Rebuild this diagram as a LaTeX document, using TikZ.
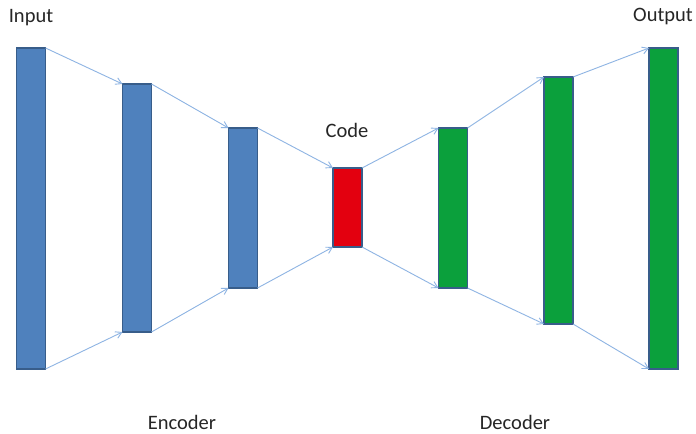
\documentclass[tikz,border=0pt]{standalone}
\usepackage{fontspec}
\setmainfont{Carlito}
\usetikzlibrary{arrows.meta}
\definecolor{barblue}{HTML}{4F81BD}
\definecolor{edgeblue}{HTML}{385D8A}
\definecolor{barred}{HTML}{E3000F}
\definecolor{bargreen}{HTML}{0BA03C}
\definecolor{linkblue}{HTML}{8EB4E3}
\begin{document}
\begin{tikzpicture}[x=1bp,y=-1bp,
  layer/.style={draw=edgeblue,line width=1.6bp,inner sep=0,outer sep=0,minimum width=29bp},
  link/.style={draw=linkblue,line width=0.9bp,-{Straight Barb[length=6bp,width=7bp]}},
  lbl/.style={font=\fontsize{20.5bp}{23bp}\selectfont,text=black!85,anchor=base,inner sep=0}]
\useasboundingbox (0,0) rectangle (696,434);
\fill[white] (0,0) rectangle (696,434);
\node[layer,fill=barblue,minimum height=321bp] (l1) at (31,208.5) {};
\node[layer,fill=barblue,minimum height=248bp] (l2) at (137,208) {};
\node[layer,fill=barblue,minimum height=160bp] (l3) at (243,208) {};
\node[layer,fill=barred,minimum height=79bp] (c) at (347.5,207.5) {};
\node[layer,fill=bargreen,minimum height=160bp] (l5) at (453,208) {};
\node[layer,fill=bargreen,minimum height=247bp] (l6) at (558.5,200.5) {};
\node[layer,fill=bargreen,minimum height=321bp] (l7) at (663.5,208.5) {};
\foreach \a/\b in {l1/l2,l2/l3,l3/c,c/l5,l5/l6,l6/l7}{
  \draw[link] (\a.north east) -- (\b.north west);
  \draw[link] (\a.south east) -- (\b.south west);
}
\node[lbl] (tin) at (31,23) {Input};
\node[lbl] (tcode) at (347,138) {Code};
\node[lbl] (tout) at (663,22) {Output};
\node[lbl] (tenc) at (182,429) {Encoder};
\node[lbl] (tdec) at (515,429) {Decoder};
\end{tikzpicture}
\end{document}
